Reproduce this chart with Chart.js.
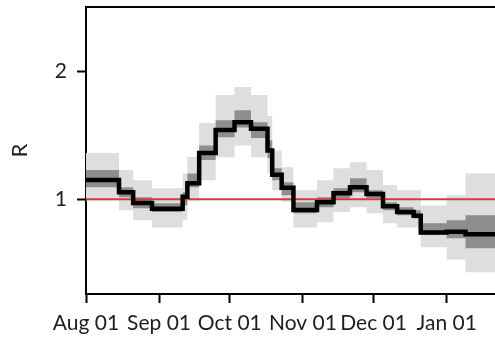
<!DOCTYPE html>
<html>
<head>
<meta charset="utf-8">
<script src="https://cdn.jsdelivr.net/npm/chart.js@4/dist/chart.umd.min.js"></script>
<style>
  html, body { margin: 0; padding: 0; background: #fff; }
</style>
</head>
<body>
<canvas id="rChart" width="495" height="341"></canvas>
<script>
// x axis: days since Aug 01
const tickDays = [0, 31, 61, 92, 122, 153];
const tickLabels = ['Aug 01', 'Sep 01', 'Oct 01', 'Nov 01', 'Dec 01', 'Jan 01'];
const yTicks = [1, 2];
const endDay = 173.5;

// day each step starts, and R estimate for that step
const stepDays = [0, 14, 20, 28, 41, 43, 48, 55, 63, 70, 77, 79, 83, 88, 98, 105, 112, 119, 126, 132, 139, 142, 153, 161];
const rMean = [1.15, 1.055, 0.97, 0.925, 1.02, 1.125, 1.36, 1.54, 1.60, 1.55, 1.38, 1.19, 1.09, 0.915, 0.977, 1.047, 1.094, 1.04, 0.945, 0.90, 0.87, 0.74, 0.745, 0.727];
const rLo50 = [1.094, 1.016, 0.93, 0.90, 0.953, 1.094, 1.305, 1.484, 1.56, 1.477, 1.32, 1.148, 1.03, 0.89, 0.9375, 1.008, 1.055, 1.008, 0.914, 0.875, 0.85, 0.72, 0.695, 0.617];
const rHi50 = [1.227, 1.094, 1.016, 0.969, 1.055, 1.20, 1.42, 1.617, 1.695, 1.60, 1.46, 1.242, 1.133, 0.977, 1.016, 1.086, 1.164, 1.07, 0.977, 0.9375, 0.914, 0.8125, 0.836, 0.875];
const rLo95 = [0.99, 0.914, 0.836, 0.78, 0.84, 0.99, 1.148, 1.328, 1.42, 1.328, 1.2, 1.07, 0.98, 0.78, 0.82, 0.90, 0.9375, 0.89, 0.8125, 0.78, 0.78, 0.625, 0.53, 0.43];
const rHi95 = [1.36, 1.227, 1.148, 1.086, 1.2, 1.33, 1.594, 1.8125, 1.875, 1.8125, 1.65, 1.38, 1.25, 1.07, 1.148, 1.242, 1.289, 1.227, 1.11, 1.07, 1.07, 0.95, 1.03, 1.2];
const threshold = 1;

function steps(values) {
    const pts = stepDays.map((d, i) => ({ x: d, y: values[i] }));
    pts.push({ x: endDay, y: values[values.length - 1] });
    return pts;
}

const FONT = 'Lato, "Open Sans", sans-serif';
const TEXT = '#1e1e1e';

// top edge of the box
const topFrame = {
    id: 'topFrame',
    afterDatasetsDraw(chart) {
        const { ctx, chartArea } = chart;
        ctx.save();
        ctx.strokeStyle = '#000';
        ctx.lineWidth = 2;
        ctx.beginPath();
        ctx.moveTo(chartArea.left - 1, chartArea.top);
        ctx.lineTo(chartArea.right, chartArea.top);
        ctx.stroke();
        ctx.restore();
    }
};

// value holds until the next step day
const bandStyle = { borderWidth: 0, pointRadius: 0, stepped: 'before' };

new Chart(document.getElementById('rChart'), {
    type: 'line',
    data: {
        datasets: [
            { data: steps(rMean), borderColor: '#000', borderWidth: 4.5, pointRadius: 0, stepped: 'before', fill: false, order: 0 },
            { data: [{ x: 0, y: threshold }, { x: endDay, y: threshold }], borderColor: '#d23c3c', borderWidth: 2, pointRadius: 0, fill: false, order: 1 },
            { ...bandStyle, data: steps(rHi50), fill: '+1', backgroundColor: '#8e8e8e', order: 2 },
            { ...bandStyle, data: steps(rLo50), fill: false, order: 3 },
            { ...bandStyle, data: steps(rHi95), fill: '+1', backgroundColor: '#dedede', order: 4 },
            { ...bandStyle, data: steps(rLo95), fill: false, order: 5 }
        ]
    },
    options: {
        responsive: false,
        animation: false,
        layout: { padding: { top: 7, right: 0, left: 0, bottom: 0 } },
        plugins: { legend: { display: false }, tooltip: { enabled: false } },
        scales: {
            x: {
                type: 'linear',
                min: 0,
                max: endDay,
                afterBuildTicks: (scale) => { scale.ticks = tickDays.map(v => ({ value: v })); },
                afterFit: (scale) => { scale.height = 47; scale.paddingRight = 0; },
                ticks: {
                    autoSkip: false,
                    maxRotation: 0,
                    padding: 8,
                    color: TEXT,
                    font: { family: FONT, size: 21 },
                    callback: (v) => tickLabels[tickDays.indexOf(v)]
                },
                grid: { drawOnChartArea: false, drawTicks: true, tickLength: 9, tickWidth: 2, tickColor: '#000' },
                border: { display: true, color: '#000', width: 2 }
            },
            y: {
                min: 0.26,
                max: 2.5,
                afterBuildTicks: (scale) => { scale.ticks = yTicks.map(v => ({ value: v })); },
                afterFit: (scale) => { scale.width = 86; scale.paddingTop = 0; scale.paddingBottom = 0; },
                ticks: {
                    padding: 10,
                    color: TEXT,
                    font: { family: FONT, size: 21 },
                    callback: (v) => String(v)
                },
                title: {
                    display: true,
                    text: 'R',
                    color: TEXT,
                    font: { family: FONT, size: 22 },
                    padding: { top: 7, bottom: 0 }
                },
                grid: { drawOnChartArea: false, drawTicks: true, tickLength: 9, tickWidth: 2, tickColor: '#000' },
                border: { display: true, color: '#000', width: 2 }
            }
        }
    },
    plugins: [topFrame]
});
</script>
</body>
</html>
